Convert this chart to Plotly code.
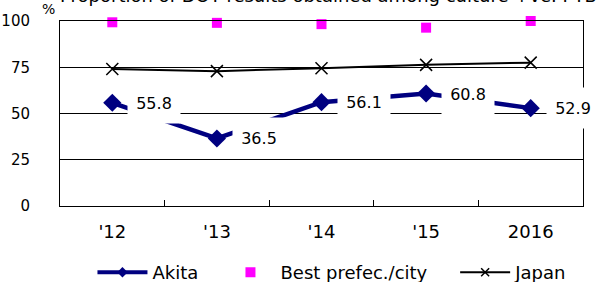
import plotly.graph_objects as go

years = ["'12", "'13", "'14", "'15", "2016"]
akita = [55.8, 36.5, 56.1, 60.8, 52.9]
best = [99.3, 99.0, 98.3, 96.4, 100.0]
japan = [74.1, 72.9, 74.5, 76.3, 77.5]
y_ticks = [0, 25, 50, 75, 100]
title_text = "Proportion of DOT results obtained among culture +ve. PTB"

FONT = "DejaVu Sans"
xpos = list(range(len(years)))
NB = "\u00a0"
NAVY = "#000080"
MAGENTA = "#FF00FF"

fig = go.Figure()
# data traces
fig.add_trace(go.Scatter(
    x=xpos, y=akita, mode="lines+markers", showlegend=False,
    line=dict(color=NAVY, width=4.5),
    marker=dict(symbol="diamond", size=14, color=NAVY),
    cliponaxis=False,
))
fig.add_trace(go.Scatter(
    x=xpos, y=best, mode="markers", showlegend=False,
    marker=dict(symbol="square", size=10, color=MAGENTA),
    cliponaxis=False,
))
fig.add_trace(go.Scatter(
    x=xpos, y=japan, mode="lines+markers", showlegend=False,
    line=dict(color="black", width=2),
    marker=dict(symbol="x-thin-open", size=12, color="black",
                line=dict(color="black", width=1.5)),
    cliponaxis=False,
))
# legend entries (smaller symbols, as in the original legend)
fig.add_trace(go.Scatter(
    x=[None], y=[None], name="Akita" + NB * 3, mode="lines+markers",
    line=dict(color=NAVY, width=4),
    marker=dict(symbol="diamond", size=8, color=NAVY),
))
fig.add_trace(go.Scatter(
    x=[None], y=[None], name="Best prefec./city" + NB * 4, mode="markers",
    marker=dict(symbol="square", size=10, color=MAGENTA),
))
fig.add_trace(go.Scatter(
    x=[None], y=[None], name="Japan", mode="lines+markers",
    line=dict(color="black", width=2),
    marker=dict(symbol="x-thin-open", size=8, color="black",
                line=dict(color="black", width=1.5)),
))

annotations = []
for xv, yv in zip(xpos, akita):
    annotations.append(dict(
        x=xv, y=yv, xref="x", yref="y", text=f"{yv:.1f}",
        showarrow=False, xanchor="left", yanchor="middle", xshift=15,
        bgcolor="white", width=40, height=28, borderpad=6,
        font=dict(family=FONT, size=16, color="black"),
    ))
annotations.append(dict(
    x=-0.004, y=1.07, xref="paper", yref="paper", text=title_text,
    showarrow=False, xanchor="left", yanchor="bottom",
    font=dict(family=FONT, size=18, color="black"),
))
annotations.append(dict(
    x=-0.022, y=1.063, xref="paper", yref="paper", text="%",
    showarrow=False, xanchor="center", yanchor="middle",
    font=dict(family=FONT, size=14, color="black"),
))

fig.update_layout(
    width=611, height=282,
    margin=dict(l=60, r=28, t=21, b=76, autoexpand=False),
    plot_bgcolor="white", paper_bgcolor="white",
    font=dict(family=FONT, size=15, color="black"),
    showlegend=True,
    legend=dict(orientation="h", x=0.52, xanchor="center", y=-0.26, yanchor="top",
                font=dict(family=FONT, size=18, color="black"),
                itemwidth=50, traceorder="normal"),
    annotations=annotations,
)
fig.update_xaxes(
    range=[-0.5, len(years) - 0.5], tickvals=xpos, ticktext=years,
    showline=True, linecolor="black", linewidth=1, mirror=True,
    ticks="", showgrid=False, zeroline=False,
    tickfont=dict(family=FONT, size=18, color="black"),
    ticklabelstandoff=9,
    minor=dict(tickvals=[v + 0.5 for v in xpos[:-1]], ticks="inside", ticklen=6,
               tickcolor="black", showgrid=False),
)
fig.update_yaxes(
    range=[0, 100], tickvals=y_ticks, showline=True, linecolor="black", linewidth=1,
    mirror=True, showgrid=True, gridcolor="black", gridwidth=1, ticks="",
    zeroline=False, tickfont=dict(family=FONT, size=15, color="black"),
    ticklabelstandoff=26,
)

fig.write_html("out.html", config={"displayModeBar": False},
               post_script="document.body.style.margin='0';")
